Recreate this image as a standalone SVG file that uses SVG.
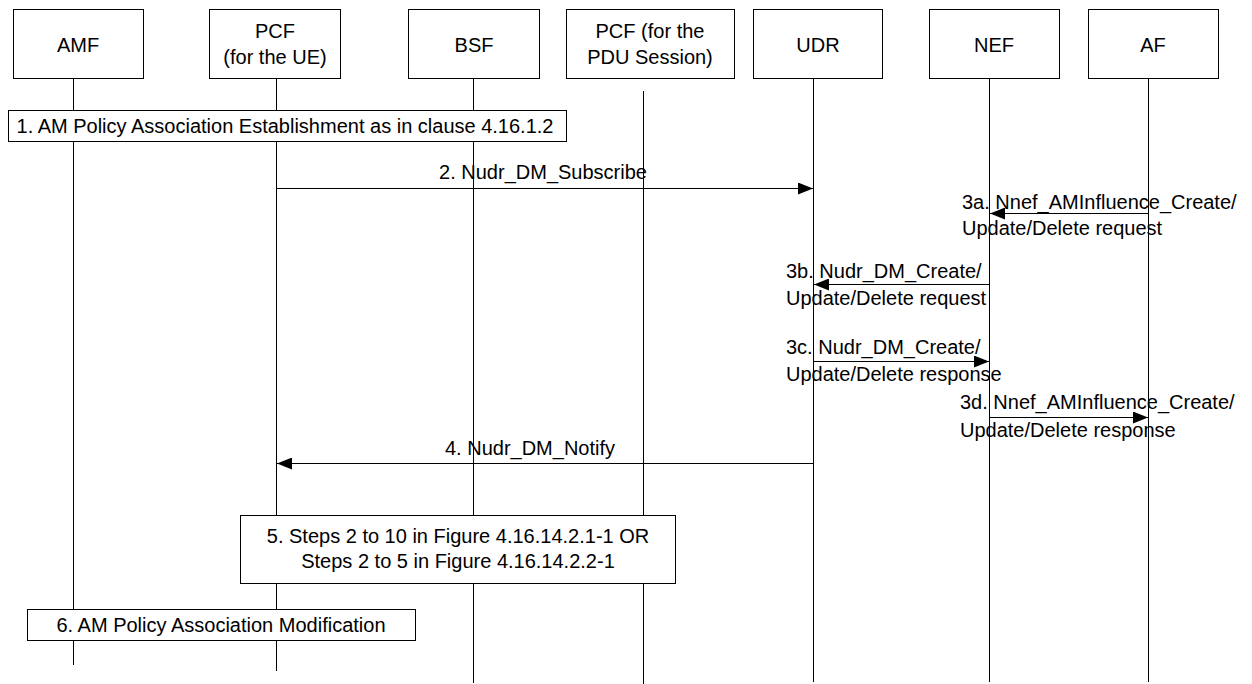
<svg xmlns="http://www.w3.org/2000/svg" width="1252" height="684" viewBox="0 0 1252 684">
<defs>
<style>
.box{fill:#fff;stroke:#000;stroke-width:1}
.life{stroke:#000;stroke-width:1;fill:none}
.msg{stroke:#000;stroke-width:1;fill:none;marker-end:url(#arr)}
text{font-family:"Liberation Sans",Arial,sans-serif;font-size:20px;fill:#000}
.c{text-anchor:middle}
</style>
<marker id="arr" viewBox="0 0 15 12" refX="15" refY="6" markerWidth="15" markerHeight="12" markerUnits="userSpaceOnUse" orient="auto">
<path d="M0,0 L15,6 L0,12 Z" fill="#000"/>
</marker>
</defs>
<rect width="1252" height="684" fill="#fff"/>

<g id="lifelines">
<line class="life" x1="73.5" y1="78" x2="73.5" y2="665"/>
<line class="life" x1="276.5" y1="78" x2="276.5" y2="671"/>
<line class="life" x1="473.5" y1="78" x2="473.5" y2="683"/>
<line class="life" x1="643.5" y1="91" x2="643.5" y2="684"/>
<line class="life" x1="813.5" y1="78" x2="813.5" y2="682"/>
<line class="life" x1="989.5" y1="78" x2="989.5" y2="682"/>
<line class="life" x1="1148.5" y1="78" x2="1148.5" y2="682"/>
</g>

<g id="AMF"><rect class="box" x="13.5" y="9.5" width="130" height="69"/><text class="c" x="78" y="52">AMF</text></g>
<g id="PCF_UE"><rect class="box" x="209.5" y="9.5" width="131" height="69"/><text class="c" x="275" y="38">PCF</text><text class="c" x="275" y="64">(for the UE)</text></g>
<g id="BSF"><rect class="box" x="408.5" y="9.5" width="131" height="69"/><text class="c" x="474" y="52">BSF</text></g>
<g id="PCF_PDU"><rect class="box" x="566.5" y="9.5" width="168" height="69"/><text class="c" x="650" y="38">PCF (for the</text><text class="c" x="650" y="64">PDU Session)</text></g>
<g id="UDR"><rect class="box" x="753.5" y="9.5" width="129" height="69"/><text class="c" x="818" y="52">UDR</text></g>
<g id="NEF"><rect class="box" x="929.5" y="9.5" width="130" height="69"/><text class="c" x="994" y="52">NEF</text></g>
<g id="AF"><rect class="box" x="1088.5" y="9.5" width="130" height="69"/><text class="c" x="1153" y="52">AF</text></g>

<g id="step1"><rect class="box" x="8.5" y="110.5" width="558" height="31"/><text class="c" x="285" y="133">1. AM Policy Association Establishment as in clause 4.16.1.2</text></g>

<g id="connectors">
<line class="msg" x1="276.5" y1="188.5" x2="813" y2="188.5"/>
<text class="c" x="543" y="179">2. Nudr_DM_Subscribe</text>

<line class="msg" x1="1148.5" y1="213.5" x2="990" y2="213.5"/>
<text x="962" y="209">3a. Nnef_AMInfluence_Create/</text>
<text x="962" y="235">Update/Delete request</text>

<line class="msg" x1="989.5" y1="284.5" x2="814" y2="284.5"/>
<text x="786" y="278">3b. Nudr_DM_Create/</text>
<text x="786" y="305">Update/Delete request</text>

<line class="msg" x1="813.5" y1="361.5" x2="989" y2="361.5"/>
<text x="786" y="354">3c. Nudr_DM_Create/</text>
<text x="786" y="381">Update/Delete response</text>

<line class="msg" x1="989.5" y1="417.5" x2="1148" y2="417.5"/>
<text x="960" y="409">3d. Nnef_AMInfluence_Create/</text>
<text x="960" y="437">Update/Delete response</text>

<line class="msg" x1="813.5" y1="463.5" x2="277" y2="463.5"/>
<text class="c" x="530" y="455">4. Nudr_DM_Notify</text>
</g>

<g id="step5"><rect class="box" x="240.5" y="515.5" width="435" height="68"/><text class="c" x="458" y="543">5. Steps 2 to 10 in Figure 4.16.14.2.1-1 OR</text><text class="c" x="458" y="568">Steps 2 to 5 in Figure 4.16.14.2.2-1</text></g>

<g id="step6"><rect class="box" x="27.5" y="609.5" width="388" height="31"/><text class="c" x="221" y="632">6. AM Policy Association Modification</text></g>
</svg>
